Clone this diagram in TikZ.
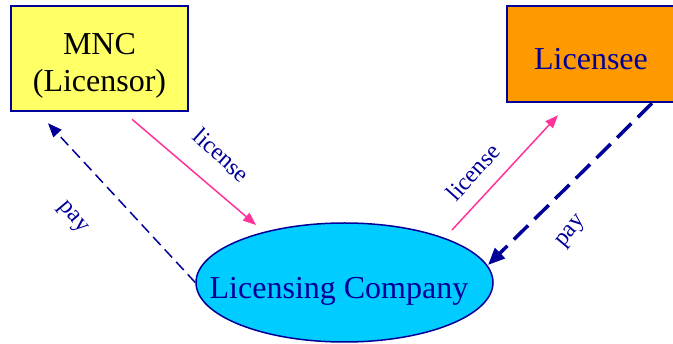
\documentclass[tikz,border=0pt]{standalone}
\usepackage{fontspec}
\setmainfont{Liberation Serif}
\usetikzlibrary{shapes.geometric,arrows.meta}
\definecolor{navy}{HTML}{000099}
\definecolor{lemon}{HTML}{FFFF66}
\definecolor{tangerine}{HTML}{FF9900}
\definecolor{skyblue}{HTML}{00CCFF}
\definecolor{hotpink}{HTML}{FF3399}

\begin{document}
\begin{tikzpicture}[x=1pt,y=-1pt,
    box/.style={draw=navy, line width=2.5pt, rectangle, inner sep=0pt, font=\fontsize{32}{37}\selectfont, align=center},
    oval/.style={draw=navy, line width=1.5pt, ellipse, inner sep=0pt, font=\fontsize{32}{37}\selectfont, text=navy},
    lic/.style={draw=hotpink, line width=1.5pt, -{Triangle[length=13pt,width=10pt]}},
    paythin/.style={draw=navy, line width=1.5pt, dash pattern=on 11pt off 6pt, -{Triangle[length=14pt,width=11pt]}},
    paythick/.style={draw=navy, line width=3.5pt, dash pattern=on 20pt off 9pt, -{Triangle[length=17pt,width=14pt]}},
    tag/.style={font=\fontsize{24}{28}\selectfont, text=navy, inner sep=0pt}]
    \useasboundingbox (0,0) rectangle (673,344);

    % Parties
    \node[box, fill=lemon, minimum width=177pt, minimum height=105pt, text height=67pt, text depth=0pt] (mnc) at (99.5,58.5) {MNC\\(Licensor)};
    \node[box, fill=tangerine, text=navy, minimum width=168pt, minimum height=96pt, text height=32pt, text depth=0pt] (licensee) at (591,54) {Licensee};
    \node[oval, fill=skyblue, minimum width=297pt, minimum height=119pt, text height=33pt, text depth=0pt] (lc) at (344.5,282.5) {\makebox[0pt]{\hspace*{-11pt}Licensing Company}};

    % Flows
    \draw[lic] ([shift={(32.5pt,-7pt)}]mnc.south) -- ([shift={(-88.5pt,57.5pt)}]lc.center);
    \draw[paythin] (lc.west) -- ([shift={(-51.5pt,-11pt)}]mnc.south);
    \draw[lic] ([shift={(107.5pt,52.5pt)}]lc.center) -- ([shift={(-33pt,-12pt)}]licensee.south);
    \draw[paythick] ([xshift=61pt]licensee.south) -- ([shift={(143.5pt,17.5pt)}]lc.center);

    % Labels
    \node[tag, rotate=-42] (lic-1) at (221.5,155) {license};
    \node[tag, rotate=-50] (pay-1) at (72,218) {pay};
    \node[tag, rotate=48] (lic-2) at (473,172) {license};
    \node[tag, rotate=50] (pay-2) at (572,232) {pay};

\end{tikzpicture}
\end{document}
